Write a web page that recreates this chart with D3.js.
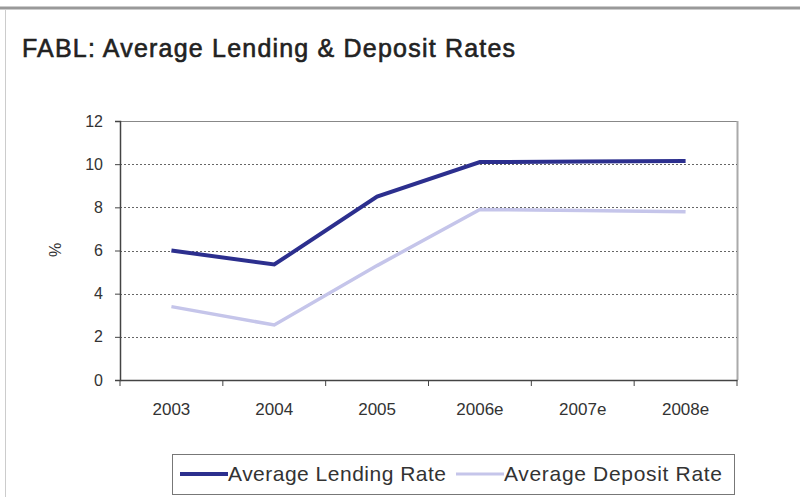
<!DOCTYPE html>
<html>
<head>
<meta charset="utf-8">
<script src="https://cdn.jsdelivr.net/npm/d3@7"></script>
<style>
  body { margin: 0; background: #fff; }
  text { font-family: "Liberation Sans", Arial, sans-serif; }
</style>
</head>
<body>
<svg width="800" height="497"></svg>
<script>
// chart data
var years = ["2003", "2004", "2005", "2006e", "2007e", "2008e"];
var lendingRate = [6.0, 5.35, 8.5, 10.1, 10.12, 10.15];
var depositRate = [3.4, 2.55, 5.3, 7.9, 7.85, 7.8];
var yTicks = [0, 2, 4, 6, 8, 10, 12];

var svg = d3.select("svg");

// outer frame
svg.append("line").attr("x1", 0).attr("x2", 800).attr("y1", 8).attr("y2", 8)
  .attr("stroke", "#999").attr("stroke-width", 3);
svg.append("line").attr("x1", 5.5).attr("x2", 5.5).attr("y1", 9).attr("y2", 497)
  .attr("stroke", "#ccc").attr("stroke-width", 1);

svg.append("text")
  .attr("x", 22).attr("y", 57)
  .attr("font-size", "25px")
  .attr("letter-spacing", "1.2px")
  .attr("fill", "#222")
  .attr("stroke", "#222").attr("stroke-width", 0.6)
  .text("FABL: Average Lending & Deposit Rates");

var pLeft = 120, pRight = 737, pTop = 121, pBottom = 380;

var x = d3.scaleBand().domain(years).range([pLeft, pRight]);
var y = d3.scaleLinear().domain([0, 12]).range([pBottom, pTop]);

// plot border top/right
svg.append("line").attr("x1", pLeft).attr("x2", pRight).attr("y1", pTop + 0.5).attr("y2", pTop + 0.5)
  .attr("stroke", "#888");
svg.append("line").attr("x1", pRight + 0.5).attr("x2", pRight + 0.5).attr("y1", pTop).attr("y2", pBottom)
  .attr("stroke", "#aaa").attr("stroke-width", 2);

// gridlines
svg.append("g").selectAll("line")
  .data(yTicks.filter(function(d) { return d > 0 && d < 12; }))
  .enter().append("line")
  .attr("x1", pLeft).attr("x2", pRight)
  .attr("y1", function(d) { return Math.round(y(d)) + 0.5; })
  .attr("y2", function(d) { return Math.round(y(d)) + 0.5; })
  .attr("stroke", "#666")
  .attr("stroke-dasharray", "2,2");

// y axis
var yAxis = svg.append("g")
  .attr("transform", "translate(" + pLeft + ",0)")
  .call(d3.axisLeft(y).tickValues(yTicks).tickSize(5).tickPadding(12));
yAxis.select(".domain").attr("stroke", "#444").attr("stroke-width", 1.5);
yAxis.selectAll(".tick line").attr("stroke", "#444");
yAxis.selectAll("text").attr("font-size", "16px").attr("fill", "#333")
  .attr("font-family", "Liberation Sans, Arial, sans-serif");

// x axis
var xAxis = svg.append("g")
  .attr("transform", "translate(0," + pBottom + ")")
  .call(d3.axisBottom(x).tickSize(0).tickPadding(23));
xAxis.select(".domain").attr("stroke", "#444").attr("stroke-width", 1.5);
xAxis.selectAll("text").attr("font-size", "17px").attr("fill", "#333")
  .attr("font-family", "Liberation Sans, Arial, sans-serif");
svg.append("g").selectAll("line")
  .data(years.concat(["end"]))
  .enter().append("line")
  .attr("x1", function(d, i) { return pLeft + i * x.step(); })
  .attr("x2", function(d, i) { return pLeft + i * x.step(); })
  .attr("y1", pBottom).attr("y2", pBottom + 6)
  .attr("stroke", "#444");

// % label
svg.append("text")
  .attr("transform", "translate(61,250) rotate(-90)")
  .attr("text-anchor", "middle")
  .attr("font-size", "16px")
  .attr("fill", "#333")
  .text("%");

var line = d3.line()
  .x(function(d, i) { return x(years[i]) + x.bandwidth() / 2; })
  .y(function(d) { return y(d); });

svg.append("path").datum(depositRate)
  .attr("d", line).attr("fill", "none")
  .attr("stroke", "#c5c5ea").attr("stroke-width", 3.5);
svg.append("path").datum(lendingRate)
  .attr("d", line).attr("fill", "none")
  .attr("stroke", "#2c2f8e").attr("stroke-width", 4);

// legend
var lg = svg.append("g");
lg.append("rect").attr("x", 172.5).attr("y", 454.5).attr("width", 562).attr("height", 40)
  .attr("fill", "#fff").attr("stroke", "#777");
var items = [
  {name: "Average Lending Rate", color: "#2c2f8e", w: 4, x: 180},
  {name: "Average Deposit Rate", color: "#c5c5ea", w: 3, x: 456}
];
items.forEach(function(it) {
  lg.append("line").attr("x1", it.x).attr("x2", it.x + 48).attr("y1", 474).attr("y2", 474)
    .attr("stroke", it.color).attr("stroke-width", it.w);
  lg.append("text").attr("x", it.x + 48).attr("y", 481)
    .attr("font-size", "21px").attr("textLength", 218).attr("fill", "#333").text(it.name);
});
</script>
</body>
</html>
